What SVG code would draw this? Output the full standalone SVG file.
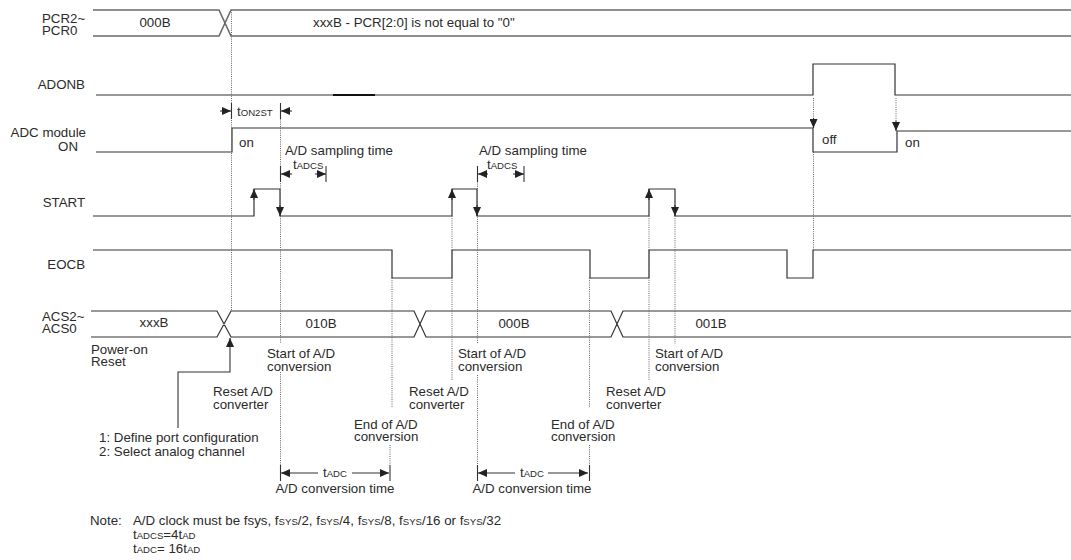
<svg xmlns="http://www.w3.org/2000/svg" width="1071" height="560" viewBox="0 0 1071 560">
<style>
text{font-family:"Liberation Sans",Arial,sans-serif;font-size:13.3px;fill:#2a2a2a}
.e{text-anchor:end}
.m{text-anchor:middle}
.s{font-size:9.6px}
.w{fill:none;stroke:#333;stroke-width:1.2}
.bus{fill:none;stroke:#6a6a6a;stroke-width:1.6}
.d{fill:none;stroke:#666;stroke-width:1;stroke-dasharray:1,1.2}
.a{fill:none;stroke:#333;stroke-width:1.1}
</style>
<defs>
<marker id="ah" markerUnits="userSpaceOnUse" markerWidth="9" markerHeight="8" refX="9" refY="4" orient="auto">
<path d="M0,0 L9,4 L0,8 z" fill="#222"/>
</marker>
</defs>
<rect width="1071" height="560" fill="#fff"/>

<g id="labels">
<text x="42" y="23">PCR2~</text>
<text x="42" y="35">PCR0</text>
<text class="e" x="85" y="89">ADONB</text>
<text class="e" x="86" y="137">ADC module</text>
<text class="e" x="78" y="151">ON</text>
<text class="e" x="85" y="207">START</text>
<text class="e" x="85" y="269">EOCB</text>
<text x="42" y="321">ACS2~</text>
<text x="42" y="333">ACS0</text>
</g>

<g id="pcr">
<path class="bus" d="M93,10 H219 L231,36 H1071 M93,36 H219 L231,10 H1071"/>
<text class="m" x="155" y="27">000B</text>
<text x="313" y="27">xxxB - PCR[2:0] is not equal to "0"</text>
</g>

<g id="adonb">
<path class="w" d="M96,95 H813 V64 H895 V95 H1071"/>
<path d="M333,95 H375" stroke="#111" stroke-width="2"/>
</g>

<g id="adc">
<path class="w" d="M96,152 H232 V128 H813 V152 H897 V131 H1071"/>
<text x="239" y="147">on</text>
<text x="822" y="144">off</text>
<text x="905" y="147">on</text>
</g>

<g id="start">
<path class="w" d="M93,216 H254 V189 H280 V216 H452 V189 H477 V216 H649 V189 H675 V216 H1071"/>
</g>

<g id="eocb">
<path class="w" d="M93,250 H392 V278 H452 V250 H590 V278 H649 V250 H787 V278 H813 V250 H1071"/>
</g>

<g id="acs">
<path class="w" d="M91,311 H217 L231,337 H414 L426,311 H611 L623,337 H1071 M91,337 H217 L231,311 H414 L426,337 H611 L623,311 H1071"/>
<text class="m" x="154" y="327">xxxB</text>
<text class="m" x="321" y="328">010B</text>
<text class="m" x="514" y="328">000B</text>
<text class="m" x="711" y="328">001B</text>
</g>

<g id="connectors">
<path class="d" d="M231.5,10 V311"/>
<path class="d" d="M280.5,104 V343 M280.5,372 V481"/>
<path class="d" d="M392,278 V408 M390,445 V465"/>
<path class="d" d="M452,216 V380"/>
<path class="d" d="M477.5,166 V344 M477.5,375 V481"/>
<path class="d" d="M589.5,278 V408 M589.5,445 V481"/>
<path class="d" d="M649,216 V380"/>
<path class="d" d="M675,216 V344"/>
<path class="d" d="M813.5,98 V121 M813.5,152 V250"/>
<path class="d" d="M896,98 V124"/>
<path class="a" d="M813.5,118 V128" marker-end="url(#ah)"/>
<path class="a" d="M896,121 V131" marker-end="url(#ah)"/>
<path class="a" d="M254,200 V189" marker-end="url(#ah)"/>
<path class="a" d="M280,205 V216" marker-end="url(#ah)"/>
<path class="a" d="M452,200 V189" marker-end="url(#ah)"/>
<path class="a" d="M477,205 V216" marker-end="url(#ah)"/>
<path class="a" d="M649,200 V189" marker-end="url(#ah)"/>
<path class="a" d="M675,205 V216" marker-end="url(#ah)"/>
<path class="a" d="M220,111 H231" marker-end="url(#ah)"/>
<path class="a" d="M292,111 H281" marker-end="url(#ah)"/>
<path class="a" d="M231.5,103 V119 M280.5,103 V119"/>
<text x="237" y="116">t<tspan class="s">ON2ST</tspan></text>
<text x="285" y="155">A/D sampling time</text>
<path class="a" d="M292,174 H281" marker-end="url(#ah)"/>
<path class="a" d="M315,174 H326" marker-end="url(#ah)"/>
<path class="a" d="M280.5,166 V182 M326,166 V182"/>
<text x="293" y="169">t<tspan class="s">ADCS</tspan></text>
<text x="479" y="155">A/D sampling time</text>
<path class="a" d="M488,174 H478" marker-end="url(#ah)"/>
<path class="a" d="M513,174 H524" marker-end="url(#ah)"/>
<path class="a" d="M477.5,166 V182 M524,166 V182"/>
<text x="487" y="169">t<tspan class="s">ADCS</tspan></text>
<path class="a" d="M178,428 V372 H230 V338" marker-end="url(#ah)"/>
<path class="a" d="M318,473 H281" marker-end="url(#ah)"/>
<path class="a" d="M352,473 H389" marker-end="url(#ah)"/>
<path class="a" d="M280.5,465 V481 M390,465 V481"/>
<text class="m" x="335" y="477">t<tspan class="s">ADC</tspan></text>
<text class="m" x="335" y="493">A/D conversion time</text>
<path class="a" d="M515,473 H478" marker-end="url(#ah)"/>
<path class="a" d="M548,473 H588" marker-end="url(#ah)"/>
<path class="a" d="M477.5,465 V481 M589.5,465 V481"/>
<text class="m" x="532" y="477">t<tspan class="s">ADC</tspan></text>
<text class="m" x="532" y="493">A/D conversion time</text>
</g>

<g id="annotations">
<text x="91" y="354">Power-on</text>
<text x="91" y="366">Reset</text>
<text x="267" y="358">Start of A/D</text>
<text x="267" y="371">conversion</text>
<text x="458" y="358">Start of A/D</text>
<text x="458" y="371">conversion</text>
<text x="655" y="358">Start of A/D</text>
<text x="655" y="371">conversion</text>
<text x="213" y="396">Reset A/D</text>
<text x="213" y="409">converter</text>
<text x="409" y="396">Reset A/D</text>
<text x="409" y="409">converter</text>
<text x="606" y="396">Reset A/D</text>
<text x="606" y="409">converter</text>
<text x="354" y="429">End of A/D</text>
<text x="354" y="441">conversion</text>
<text x="551" y="429">End of A/D</text>
<text x="551" y="441">conversion</text>
<text x="99" y="442">1: Define port configuration</text>
<text x="99" y="456">2: Select analog channel</text>
</g>

<g id="note">
<text x="90" y="525">Note:</text>
<text x="133" y="525">A/D clock must be fsys, f<tspan class="s">SYS</tspan>/2, f<tspan class="s">SYS</tspan>/4, f<tspan class="s">SYS</tspan>/8, f<tspan class="s">SYS</tspan>/16 or f<tspan class="s">SYS</tspan>/32</text>
<text x="133" y="539">t<tspan class="s">ADCS</tspan>=4t<tspan class="s">AD</tspan></text>
<text x="133" y="553">t<tspan class="s">ADC</tspan>= 16t<tspan class="s">AD</tspan></text>
</g>
</svg>
